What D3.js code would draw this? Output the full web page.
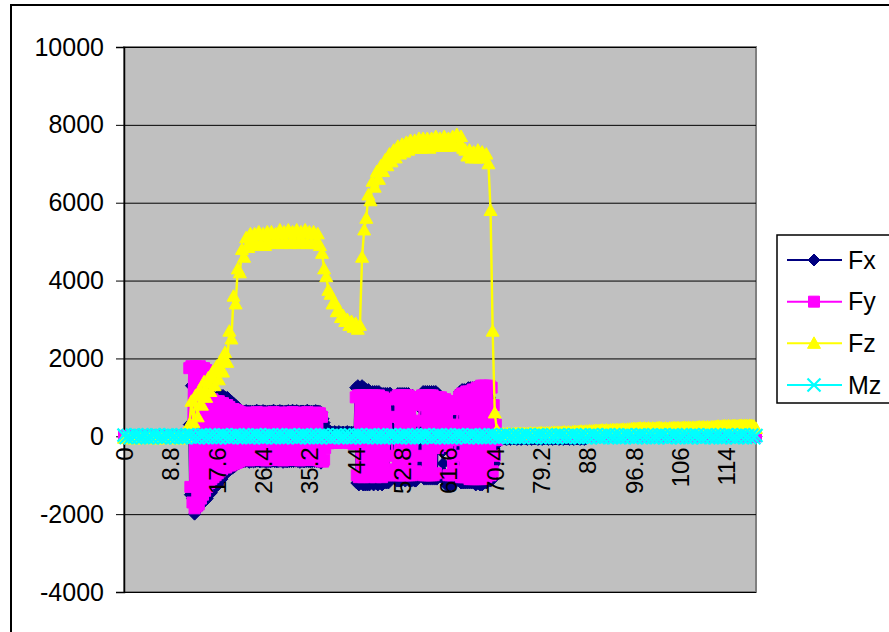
<!DOCTYPE html>
<html>
<head>
<meta charset="utf-8">
<script src="https://cdn.jsdelivr.net/npm/d3@7/dist/d3.min.js"></script>
<style>
  html, body { margin: 0; padding: 0; background: #fff; }
  svg { display: block; font-family: Arial, "Liberation Sans", sans-serif; }
</style>
</head>
<body>
<svg id="chart" width="889" height="632"></svg>
<script>
// Sample times (s): the in-plane forces are logged every 0.2 s,
// the vertical force and the moment every 0.4 s, both from 0 to 120 s
const fineTimes = d3.range(601).map(i => Math.round(i * 2) / 10);
const coarseTimes = d3.range(301).map(i => Math.round(i * 4) / 10);

// Category labels shown along the time axis
const xTickValues = [0, 8.8, 17.6, 26.4, 35.2, 44, 52.8, 61.6, 70.4, 79.2, 88, 96.8, 105.6, 114.4];
const xTickLabels = ["0", "8.8", "17.6", "26.4", "35.2", "44", "52.8", "61.6", "70.4", "79.2", "88", "96.8", "106", "114"];
const yTickValues = [-4000, -2000, 0, 2000, 4000, 6000, 8000, 10000];

// Fx, one row per 2 s
const fxValues = [
  -20, 0, -20, 0, -20, 0, -20, 0, -20, 0,
  -20, 0, -20, 0, -20, 0, -20, 0, -20, 0,
  -20, 0, -20, 0, -20, 0, -20, 0, -20, 0,
  -20, 0, -20, 0, -20, 0, -20, 0, -20, 0,
  -20, 0, -20, 0, -20, 0, -20, 0, -20, 0,
  -20, 0, -20, 0, -20, 0, -20, 0, -20, 0,
  -20, 0, 300, -1500, 1300, -1600, 1300, -2000, 1250, -1900,
  1200, -1800, 1250, -1750, 1200, -1700, 1100, -1650, 1100, -1600,
  1100, -1500, 1050, -1450, 1050, -1350, 1000, -1300, 1000, -1250,
  1050, -1150, 1050, -1100, 1050, -1000, 1000, -950, 1000, -900,
  950, -850, 900, -820, 850, -780, 800, -720, 750, -700,
  660, -650, 650, -660, 640, -650, 660, -640, 650, -670,
  650, -650, 640, -660, 650, -650, 670, -640, 650, -660,
  640, -650, 660, -650, 650, -670, 640, -650, 650, -660,
  650, -640, 670, -650, 640, -660, 650, -650, 660, -640,
  650, -670, 640, -650, 650, -660, 660, -650, 640, -650,
  670, -650, 650, -640, 660, -650, 640, -670, 650, -650,
  650, -660, 640, -650, 670, -650, 650, -660, 640, -650,
  650, -650, 660, -650, 650, -660, 640, -690, 600, 450,
  350, 250, 180, 130, 100, 50, 120, 30, 100, 0,
  120, 20, 100, 0, 120, 30, 100, 0, 110, 20,
  100, 0, 120, 30, 100, 0, 110, 20, 100, 10,
  1250, -1200, 1300, -1250, 1250, -1200, 1300, -1250, 1250, -1250,
  1200, -1250, 1200, -1250, 1150, -1200, 1150, -1250, 1150, -1200,
  1150, -1250, 1150, -1200, 1100, -1250, 1100, -1200, 1100, -1200,
  1100, -1200, 1100, 1100, 700, 200, -300, -800, -1100, -1150,
  1100, -1150, 1100, -1150, 1100, -1100, 1100, -1150, 1100, -1100,
  1100, -1150, 1050, -1150, 1050, -1100, -1150, -1150, -1000, -700,
  -300, 200, 700, 1050, 1150, -1100, 1150, -1100, 1150, -1100,
  1150, -1100, 1150, -1100, 1150, -1100, 1150, -1100, 1100, 800,
  400, 0, -400, -700, -950, -1150, -1250, -1250, -1250, -1200,
  -1250, -1200, -1250, -1000, -700, -300, 100, 500, 900, 1150,
  -1200, 1200, -1200, 1200, -1200, 1200, -1200, 1250, -1200, 1250,
  -1200, 1250, -1200, 1250, -1250, 1250, -1200, 1250, -1250, 1250,
  -1250, 1200, -1200, 1150, -1200, 1100, -1150, 1000, -1150, 900,
  -1100, 500, -700, 200, -200, -80, -60, -80, -70, -60,
  -70, -60, -70, -80, -70, -60, -70, -80, -70, -60,
  -70, -60, -70, -80, -70, -60, -70, -80, -70, -60,
  -70, -60, -70, -80, -70, -60, -70, -80, -70, -60,
  -70, -60, -70, -80, -70, -60, -70, -80, -70, -60,
  -70, -60, -70, -80, -70, -60, -70, -80, -70, -60,
  -70, -60, -70, -80, -70, -60, -70, -80, -70, -60,
  -70, -60, -70, -80, -70, -60, -70, -80, -70, -60,
  -70, -60, -70, -80, -70, -60, -70, -80, -70, -60,
  0, -10, 0, -10, 0, -10, 0, -10, 0, -10,
  0, -10, 0, -10, 0, -10, 0, -10, 0, -10,
  0, -10, 0, -10, 0, -10, 0, -10, 0, -10,
  0, -10, 0, -10, 0, -10, 0, -10, 0, -10,
  0, -10, 0, -10, 0, -10, 0, -10, 0, -10,
  0, -10, 0, -10, 0, -10, 0, -10, 0, -10,
  0, -10, 0, -10, 0, -10, 0, -10, 0, -10,
  0, -10, 0, -10, 0, -10, 0, -10, 0, -10,
  0, -10, 0, -10, 0, -10, 0, -10, 0, -10,
  0, -10, 0, -10, 0, -10, 0, -10, 0, -10,
  0, -10, 0, -10, 0, -10, 0, -10, 0, -10,
  0, -10, 0, -10, 0, -10, 0, -10, 0, -10,
  0, -10, 0, -10, 0, -10, 0, -10, 0, -10,
  0, -10, 0, -10, 0, -10, 0, -10, 0, -10,
  0, -10, 0, -10, 0, -10, 0, -10, 0, -10,
  0, -10, 0, -10, 0, -10, 0, -10, 0, -10,
  0
];

// Fy, one row per 2 s
const fyValues = [
  0, 10, -10, 10, -10, 10, -10, 10, -10, 0,
  0, 10, -10, 10, -10, 10, -10, 10, -10, 0,
  0, 10, -10, 10, -10, 10, -10, 10, -10, 0,
  0, 10, -10, 10, -10, 10, -10, 10, -10, 0,
  0, 10, -10, 10, -10, 10, -10, 10, -10, 0,
  0, 10, -10, 10, -10, 10, -10, 10, -10, 0,
  10, -10, 1750, -1300, 1800, -1700, 1750, -1850, 1800, -1800,
  1750, -1750, 1800, -1600, 1750, -1500, 1750, -1400, 1700, -1300,
  1000, -1200, 950, -1100, 950, -1050, 900, -1000, 900, -950,
  900, -900, 850, -850, 850, -800, 800, -800, 800, -750,
  750, -750, 700, -720, 700, -700, 680, -680, 650, -650,
  620, -600, 600, -610, 590, -600, 610, -590, 600, -620,
  600, -600, 590, -610, 600, -600, 620, -590, 600, -610,
  590, -600, 610, -600, 600, -620, 590, -600, 600, -610,
  600, -590, 620, -600, 590, -610, 600, -600, 610, -590,
  600, -620, 590, -600, 600, -610, 610, -600, 590, -600,
  620, -600, 600, -590, 610, -600, 590, -620, 600, -600,
  600, -610, 590, -600, 620, -600, 600, -610, 590, -600,
  600, -600, 610, -600, 600, -620, 590, -640, 500, -650,
  -600, -300, -150, -100, -180, -100, -150, -80, -170, -100,
  -150, -90, -170, -100, -150, -80, -160, -100, -150, -90,
  -160, -100, -150, -80, -170, -100, -150, -90, -200, -100,
  1000, -1000, 1050, -1050, 1050, -1000, 1050, -1050, 1000, -1000,
  1050, -1000, 1050, -1050, 1000, -1000, 1050, -1000, 1050, -1050,
  1000, -1000, 1050, -1000, 1000, -1050, 1000, -1000, 950, -1000,
  950, -1000, 950, 500, 0, -500, -850, -1000, 1000, -1000,
  1050, -1000, 1050, -1000, 1050, -1000, 1050, -1000, 1050, -1000,
  1050, -1000, 1000, -1000, 1000, -950, 1000, -900, -500, 0,
  400, 800, 1000, 1050, -1000, 1050, -1000, 1050, -1000, 1050,
  -1000, 1050, -1000, 1050, -1000, 1000, -950, 1000, -300, 1000,
  -250, 1000, -200, 950, -200, 950, -250, 900, -1000, 900,
  -1000, 800, -1000, -800, -500, -100, 300, 700, 1000, 1050,
  -1050, 1100, -1050, 1100, -1050, 1150, -1050, 1150, -1100, 1150,
  -1100, 1200, -1100, 1200, -1100, 1250, -1100, 1250, -1100, 1300,
  -1100, 1300, -1050, 1300, -1050, 1250, -1000, 1300, -1000, 1250,
  -900, 800, -500, 300, -100, 50, -20, 10, -10, 10,
  0, 10, -10, 10, -10, 10, -10, 10, -10, 0,
  0, 10, -10, 10, -10, 10, -10, 10, -10, 0,
  0, 10, -10, 10, -10, 10, -10, 10, -10, 0,
  0, 10, -10, 10, -10, 10, -10, 10, -10, 0,
  0, 10, -10, 10, -10, 10, -10, 10, -10, 0,
  0, 10, -10, 10, -10, 10, -10, 10, -10, 0,
  0, 10, -10, 10, -10, 10, -10, 10, -10, 0,
  0, 10, -10, 10, -10, 10, -10, 10, -10, 0,
  0, 10, -10, 10, -10, 10, -10, 10, -10, 0,
  0, 10, -10, 10, -10, 10, -10, 10, -10, 0,
  0, 10, -10, 10, -10, 10, -10, 10, -10, 0,
  0, 10, -10, 10, -10, 10, -10, 10, -10, 0,
  0, 10, -10, 10, -10, 10, -10, 10, -10, 0,
  0, 10, -10, 10, -10, 10, -10, 10, -10, 0,
  0, 10, -10, 10, -10, 10, -10, 10, -10, 0,
  0, 10, -10, 10, -10, 10, -10, 10, -10, 0,
  0, 10, -10, 10, -10, 10, -10, 10, -10, 0,
  0, 10, -10, 10, -10, 10, -10, 10, -10, 0,
  0, 10, -10, 10, -10, 10, -10, 10, -10, 0,
  0, 10, -10, 10, -10, 10, -10, 10, -10, 0,
  0, 10, -10, 10, -10, 10, -10, 10, -10, 0,
  0, 10, -10, 10, -10, 10, -10, 10, -10, 0,
  0, 10, -10, 10, -10, 10, -10, 10, -10, 0,
  0, 10, -10, 10, -10, 10, -10, 10, -10, 0,
  0
];

// Fz, one row per 4 s
const fzValues = [
  -50, -60, -40, -60, -50, -70, -50, -40, -60, -50,
  -60, -50, -40, -60, -50, -60, -70, -50, -40, -60,
  -50, -60, -50, -40, -60, -50, -70, -60, -50, -40,
  -30, 300, 900, 350, 1050, 500, 1200, 800, 1400, 1000,
  1500, 1150, 1650, 1300, 1800, 1450, 1950, 1650, 2150, 1900,
  2700, 2500, 3600, 3400, 4300, 4200, 4800, 4600, 5100, 4850,
  5200, 4950, 5200, 4900, 5250, 4950, 5200, 4900, 5250, 5000,
  5250, 4950, 5200, 5000, 5300, 4950, 5250, 5000, 5300, 4950,
  5250, 5000, 5300, 4950, 5250, 5000, 5300, 4950, 5250, 4950,
  5250, 4950, 5200, 4900, 4700, 4300, 4100, 3750, 3650, 3400,
  3450, 3200, 3250, 3050, 3100, 2950, 3000, 2850, 2950, 2800,
  2900, 2750, 2850, 4600, 5300, 5600, 6200, 6050, 6550, 6400,
  6800, 6600, 6950, 6800, 7100, 6950, 7250, 7050, 7350, 7150,
  7450, 7250, 7500, 7300, 7550, 7350, 7600, 7400, 7600, 7400,
  7650, 7400, 7650, 7450, 7650, 7400, 7650, 7450, 7700, 7450,
  7650, 7450, 7700, 7450, 7650, 7500, 7700, 7450, 7750, 7500,
  7700, 7400, 7350, 7200, 7350, 7150, 7300, 7150, 7350, 7150,
  7300, 7150, 7250, 7000, 5800, 2700, 600, 150, 60, 50,
  60, 50, 70, 60, 50, 60, 70, 60, 70, 60,
  70, 60, 70, 80, 70, 80, 70, 80, 90, 80,
  80, 90, 80, 90, 100, 90, 100, 90, 100, 110,
  100, 110, 100, 110, 120, 110, 120, 130, 120, 130,
  130, 140, 130, 140, 150, 140, 150, 160, 150, 160,
  150, 160, 170, 160, 170, 160, 170, 180, 170, 180,
  180, 190, 200, 190, 200, 210, 200, 210, 200, 210,
  200, 210, 200, 210, 220, 210, 200, 210, 200, 210,
  210, 220, 210, 220, 210, 220, 230, 220, 230, 220,
  230, 220, 230, 240, 230, 240, 230, 240, 230, 240,
  240, 250, 260, 250, 260, 270, 260, 270, 260, 270,
  270, 260, 270, 280, 270, 280, 270, 280, 270, 260,
  200
];

// Mz, one row per 4 s
const mzValues = [
  30, -30, 20, -40, 30, -20, 40, -30, 20, -30,
  30, -40, 20, -30, 40, -20, 30, -30, 20, -40,
  30, -20, 40, -30, 20, -30, 30, -40, 20, -30,
  40, -20, 30, -30, 20, -40, 30, -20, 40, -30,
  20, -30, 30, -40, 20, -30, 40, -20, 30, -30,
  20, -40, 30, -20, 40, -30, 20, -30, 30, -40,
  20, -30, 40, -20, 30, -30, 20, -40, 30, -20,
  40, -30, 20, -30, 30, -40, 20, -30, 40, -20,
  30, -30, 20, -40, 30, -20, 40, -30, 20, -30,
  30, -40, 20, -30, 40, -20, 30, -30, 20, -40,
  30, -20, 40, -30, 20, -30, 30, -40, 20, -30,
  40, -20, 30, -30, 20, -40, 30, -20, 40, -30,
  20, -30, 30, -40, 20, -30, 40, -20, 30, -30,
  20, -40, 30, -20, 40, -30, 20, -30, 30, -40,
  20, -30, 40, -20, 30, -30, 20, -40, 30, -20,
  40, -30, 20, -30, 30, -40, 20, -30, 40, -20,
  30, -30, 20, -40, 30, -20, 40, -30, 20, -30,
  30, -40, 20, -30, 40, -20, 30, -30, 20, -40,
  30, -20, 40, -30, 20, -30, 30, -40, 20, -30,
  40, -20, 30, -30, 20, -40, 30, -20, 40, -30,
  20, -30, 30, -40, 20, -30, 40, -20, 30, -30,
  20, -40, 30, -20, 40, -30, 20, -30, 30, -40,
  20, -30, 40, -20, 30, -30, 20, -40, 30, -20,
  40, -30, 20, -30, 30, -40, 20, -30, 40, -20,
  30, -30, 20, -40, 30, -20, 40, -30, 20, -30,
  30, -40, 20, -30, 40, -20, 30, -30, 20, -40,
  30, -20, 40, -30, 20, -30, 30, -40, 20, -30,
  40, -20, 30, -30, 20, -40, 30, -20, 40, -30,
  20, -30, 30, -40, 20, -30, 40, -20, 30, -30,
  20, -40, 30, -20, 40, -30, 20, -30, 30, -40,
  20
];

const seriesNames = ["Fx", "Fy", "Fz", "Mz"];
const seriesColors = ["#000080", "#FF00FF", "#FFFF00", "#00FFFF"];
const seriesMarkers = ["diamond", "square", "triangle", "cross"];
const seriesValues = [fxValues, fyValues, fzValues, mzValues];
const seriesTimes = [fineTimes, fineTimes, coarseTimes, coarseTimes];

const svg = d3.select("#chart");
const plot = { left: 124, right: 756, top: 47, bottom: 592 };

const x = d3.scaleLinear().domain([0, 120]).range([plot.left, plot.right]);
const y = d3.scaleLinear().domain([-4000, 10000]).range([plot.bottom, plot.top]);

// outer chart frame
svg.append("rect")
  .attr("x", 11).attr("y", 5).attr("width", 920).attr("height", 700)
  .attr("fill", "#fff").attr("stroke", "#000").attr("stroke-width", 2);

// plot area
svg.append("rect")
  .attr("x", plot.left).attr("y", plot.top)
  .attr("width", plot.right - plot.left).attr("height", plot.bottom - plot.top)
  .attr("fill", "#C0C0C0").attr("stroke", "#808080").attr("stroke-width", 2);

// horizontal gridlines
svg.append("g")
  .attr("transform", `translate(${plot.left},0)`)
  .call(d3.axisLeft(y).tickValues(yTickValues).tickSize(-(plot.right - plot.left)).tickFormat(""))
  .call(g => g.select(".domain").remove())
  .call(g => g.selectAll("line").attr("stroke", "#000").attr("stroke-width", 1));

// value axis
const yAxis = svg.append("g")
  .attr("transform", `translate(${plot.left},0)`)
  .call(d3.axisLeft(y).tickValues(yTickValues).tickSize(8).tickPadding(12).tickFormat(d => String(d)));
yAxis.select(".domain").attr("stroke", "#000").attr("stroke-width", 1.5);
yAxis.selectAll("line").attr("stroke", "#000");
yAxis.selectAll("text").attr("font-size", 25).attr("fill", "#000")
  .attr("font-family", "Arial, 'Liberation Sans', sans-serif");

// marker shapes
function markerPath(kind) {
  switch (kind) {
    case "diamond": return "M0,-6L6,0L0,6L-6,0Z";
    case "square": return "M-5.5,-5.5H5.5V5.5H-5.5Z";
    case "triangle": return "M0,-6.5L6.5,5L-6.5,5Z";
    default: return "M-6.5,-6.5L6.5,6.5M6.5,-6.5L-6.5,6.5";
  }
}

seriesValues.forEach((vals, s) => {
  const ts = seriesTimes[s];
  const line = d3.line().x((d, i) => x(ts[i])).y(d => y(d));
  const g = svg.append("g");
  g.append("path")
    .attr("d", line(vals))
    .attr("fill", "none")
    .attr("stroke", seriesColors[s])
    .attr("stroke-width", 2.4)
    .attr("stroke-linejoin", "round");
  const isCross = seriesMarkers[s] === "cross";
  g.selectAll("path.m")
    .data(vals)
    .join("path")
    .attr("class", "m")
    .attr("transform", (d, i) => `translate(${x(ts[i])},${y(d)})`)
    .attr("d", markerPath(seriesMarkers[s]))
    .attr("fill", isCross ? "none" : seriesColors[s])
    .attr("stroke", seriesColors[s])
    .attr("stroke-width", isCross ? 2.2 : 1);
});

// category axis labels, rotated, hanging below the zero line
const xAxis = svg.append("g")
  .attr("transform", `translate(0,${y(0)})`)
  .call(d3.axisBottom(x).tickValues(xTickValues).tickSize(0)
    .tickFormat((d, i) => xTickLabels[i]));
xAxis.select(".domain").remove();
xAxis.selectAll("text")
  .attr("font-size", 24)
  .attr("fill", "#000")
  .attr("font-family", "Arial, 'Liberation Sans', sans-serif")
  .attr("transform", "rotate(-90)")
  .attr("text-anchor", "end")
  .attr("x", -11)
  .attr("y", 0)
  .attr("dy", "0.35em");

// legend
const legend = svg.append("g");
legend.append("rect")
  .attr("x", 777).attr("y", 235).attr("width", 140).attr("height", 168)
  .attr("fill", "#fff").attr("stroke", "#000").attr("stroke-width", 1.5);
const legendY = d3.scalePoint().domain(seriesNames).range([260, 385]);
seriesNames.forEach((name, s) => {
  const ly = legendY(name);
  legend.append("line")
    .attr("x1", 787).attr("x2", 842).attr("y1", ly).attr("y2", ly)
    .attr("stroke", seriesColors[s]).attr("stroke-width", 2);
  const isCross = seriesMarkers[s] === "cross";
  legend.append("path")
    .attr("transform", `translate(814,${ly})`)
    .attr("d", markerPath(seriesMarkers[s]))
    .attr("fill", isCross ? "none" : seriesColors[s])
    .attr("stroke", seriesColors[s])
    .attr("stroke-width", isCross ? 2.2 : 1);
  legend.append("text")
    .attr("x", 848).attr("y", ly).attr("dy", "0.35em")
    .attr("font-size", 25).attr("fill", "#000")
    .text(name);
});
</script>
</body>
</html>
